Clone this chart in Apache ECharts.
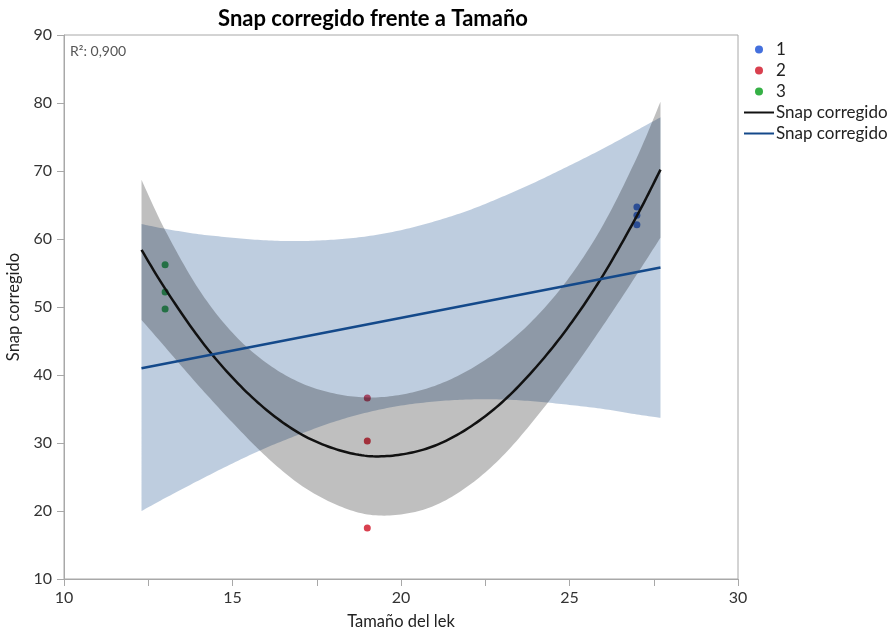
<!DOCTYPE html>
<html>
<head>
<meta charset="utf-8">
<script src="https://cdn.jsdelivr.net/npm/echarts@6/dist/echarts.min.js"></script>
<style>
html,body{margin:0;padding:0;background:#fff;}
#chart{width:888px;height:632px;}
</style>
</head>
<body>
<div id="chart"></div>
<script>
// puntos por grupo [Tamaño, Snap]
var group1 = [[27, 64.7], [27, 63.5], [27, 62.1]];
var group2 = [[19, 36.6], [19, 30.3], [19, 17.5]];
var group3 = [[13, 56.2], [13, 52.2], [13, 49.7]];

// ajuste cuadratico y su banda
var fitX = [12.3, 13, 14, 15, 16, 17, 18, 19, 20, 21, 22, 23, 24, 25, 26, 27, 27.7];
var quadFit = [58.4, 52.7, 45.5, 39.6, 34.9, 31.4, 29.2, 28.1, 28.3, 29.6, 32.2, 36.0, 41.1, 47.3, 54.7, 63.4, 70.2];
var quadUpper = [68.7, 61.3, 52.6, 46.2, 41.8, 38.9, 37.3, 36.7, 37.1, 38.4, 40.7, 44.0, 48.5, 54.4, 62.1, 72.0, 80.2];
var quadLower = [48.1, 44.1, 38.4, 33.0, 28.0, 23.9, 21.1, 19.5, 19.5, 20.8, 23.7, 28.0, 33.7, 40.2, 47.3, 54.8, 60.2];

// ajuste lineal y su banda
var linX = [12.3, 27.7];
var linFit = [41.0, 55.8];
var linUpper = [62.2, 61.5, 60.7, 60.2, 59.8, 59.7, 59.9, 60.4, 61.3, 62.6, 64.2, 66.2, 68.4, 70.8, 73.3, 76.0, 77.9];
var linLower = [20.0, 21.9, 24.5, 27.0, 29.3, 31.3, 33.1, 34.5, 35.5, 36.1, 36.4, 36.4, 36.1, 35.6, 35.0, 34.2, 33.7];

var font = 'Lato';
var quadColor = '#111111';
var linColor = '#14498a';

function pairs(xs, ys) {
    return xs.map(function (x, i) { return [x, ys[i]]; });
}

// curva suave (catmull-rom) sobre puntos ya en pixeles
function spline(p) {
    var out = [];
    for (var i = 0; i < p.length - 1; i++) {
        var p0 = p[i - 1] || p[i], p1 = p[i], p2 = p[i + 1], p3 = p[i + 2] || p[i + 1];
        for (var k = 0; k < 12; k++) {
            var t = k / 12, t2 = t * t, t3 = t2 * t;
            out.push([0, 1].map(function (d) {
                return 0.5 * ((2 * p1[d]) + (-p0[d] + p2[d]) * t +
                    (2 * p0[d] - 5 * p1[d] + 4 * p2[d] - p3[d]) * t2 +
                    (-p0[d] + 3 * p1[d] - 3 * p2[d] + p3[d]) * t3);
            }));
        }
    }
    out.push(p[p.length - 1]);
    return out;
}

function bandSeries(name, hi, lo, color) {
    return {
        name: name,
        type: 'custom',
        z: 2,
        clip: true,
        silent: true,
        encode: {x: 0, y: [1, 2]},
        data: fitX.map(function (x, i) { return [x, hi[i], lo[i]]; }),
        renderItem: function (params, api) {
            if (params.dataIndex !== 0) return;
            var top = fitX.map(function (x, i) { return api.coord([x, hi[i]]); });
            var bot = fitX.map(function (x, i) { return api.coord([x, lo[i]]); });
            var pts = spline(top).concat(spline(bot).reverse());
            return {type: 'polygon', shape: {points: pts}, style: {fill: color}};
        }
    };
}

var myChart = echarts.init(document.getElementById('chart'));

var series = [
    {name: '1', type: 'scatter', symbolSize: 7, z: 1, itemStyle: {color: '#4470dd', opacity: 1}, data: group1},
    {name: '2', type: 'scatter', symbolSize: 7, z: 1, itemStyle: {color: '#d9404f', opacity: 1}, data: group2},
    {name: '3', type: 'scatter', symbolSize: 7, z: 1, itemStyle: {color: '#35b045', opacity: 1}, data: group3},
    bandSeries('banda lineal', linUpper, linLower, 'rgba(40,90,150,0.3)'),
    bandSeries('banda cuadratica', quadUpper, quadLower, 'rgba(0,0,0,0.25)'),
    {
        // curva del ajuste cuadratico
        name: 'curva cuadratica',
        type: 'custom',
        z: 3,
        clip: true,
        silent: true,
        encode: {x: 0, y: 1},
        data: pairs(fitX, quadFit),
        renderItem: function (params, api) {
            if (params.dataIndex !== 0) return;
            var pts = fitX.map(function (x, i) { return api.coord([x, quadFit[i]]); });
            return {type: 'polyline', shape: {points: spline(pts)},
                style: {stroke: quadColor, lineWidth: 2.5, fill: null}};
        }
    },
    {
        // solo para la leyenda
        name: 'Snap corregido',
        type: 'line',
        symbol: 'none',
        z: 3,
        lineStyle: {color: quadColor, width: 2.5},
        itemStyle: {color: quadColor},
        data: []
    },
    {
        name: 'Snap corregido ',
        type: 'line',
        symbol: 'none',
        z: 3,
        lineStyle: {color: linColor, width: 2.5},
        itemStyle: {color: linColor},
        data: pairs(linX, linFit)
    }
];

var option = {
    animation: false,
    backgroundColor: '#fff',
    title: {
        text: 'Snap corregido frente a Tamaño',
        left: 368,
        textAlign: 'center',
        top: 3,
        textStyle: {fontFamily: font, fontSize: 22, fontWeight: 'bold', color: '#000'}
    },
    legend: {
        orient: 'vertical',
        left: 738,
        top: 36,
        itemWidth: 30,
        itemHeight: 8,
        itemGap: 4,
        textStyle: {fontFamily: font, fontSize: 17, color: '#222', padding: [0, 0, 0, -3]},
        data: [
            {name: '1', icon: 'circle'},
            {name: '2', icon: 'circle'},
            {name: '3', icon: 'circle'},
            {name: 'Snap corregido', itemStyle: {opacity: 0}},
            {name: 'Snap corregido ', itemStyle: {opacity: 0}}
        ]
    },
    graphic: [{
        type: 'text',
        left: 70,
        top: 44,
        style: {text: 'R²: 0,900', fontFamily: font, fontSize: 14, fill: '#555'}
    }],
    grid: {
        left: 64,
        top: 35,
        right: 150,
        bottom: 53,
        outerBoundsMode: 'none',
        show: true,
        borderColor: '#a8a8a8',
        borderWidth: 1
    },
    xAxis: {
        type: 'value',
        min: 10,
        max: 30,
        interval: 5,
        name: 'Tamaño del lek',
        nameLocation: 'middle',
        nameGap: 34,
        nameTextStyle: {fontFamily: font, fontSize: 16.5, color: '#222'},
        axisLine: {lineStyle: {color: '#a8a8a8'}},
        axisTick: {length: 7, lineStyle: {color: '#a8a8a8'}},
        minorTick: {show: true, splitNumber: 2, length: 7, lineStyle: {color: '#a8a8a8'}},
        axisLabel: {fontFamily: font, fontSize: 16, color: '#333', margin: 11},
        splitLine: {show: false}
    },
    yAxis: {
        type: 'value',
        min: 10,
        max: 90,
        interval: 10,
        name: 'Snap corregido',
        nameLocation: 'middle',
        nameGap: 30,
        nameTextStyle: {fontFamily: font, fontSize: 16.5, color: '#222'},
        axisLine: {show: true, lineStyle: {color: '#a8a8a8'}},
        axisTick: {show: true, length: 7, lineStyle: {color: '#a8a8a8'}},
        axisLabel: {fontFamily: font, fontSize: 16, color: '#333', margin: 12},
        splitLine: {show: false}
    },
    series: series
};
myChart.setOption(option);
</script>
</body>
</html>
